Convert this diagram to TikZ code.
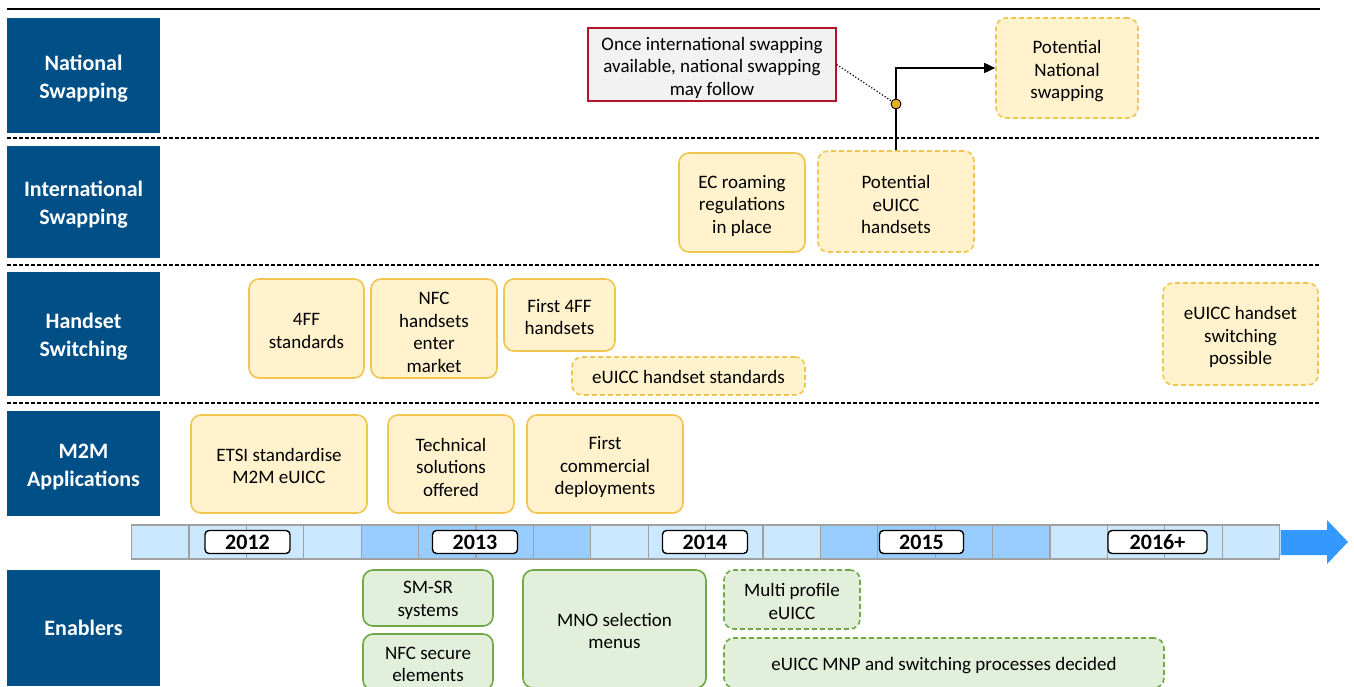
\documentclass[tikz,border=0pt]{standalone}
\usepackage{fontspec}
\setmainfont{Carlito}
\usetikzlibrary{arrows.meta}
\definecolor{sideblue}{RGB}{0,80,135}
\definecolor{yfill}{RGB}{255,242,204}
\definecolor{ybd}{RGB}{240,198,80}
\definecolor{gfill}{RGB}{226,239,218}
\definecolor{gbd}{RGB}{112,168,70}
\definecolor{cfill}{RGB}{242,242,242}
\definecolor{cbd}{RGB}{180,20,40}
\definecolor{tlight}{RGB}{204,232,255}
\definecolor{tdark}{RGB}{153,204,255}
\definecolor{tline}{RGB}{160,160,160}
\definecolor{arrblue}{RGB}{51,153,255}
\definecolor{dotgold}{RGB}{230,176,30}
\newcommand\rbox[7]{\node[#1,minimum width={#4-#2},minimum height={#5-#3}] (#6) at ({(#2+#4)/2},{(#3+#5)/2}) {#7};}
\newcommand\bs{\rule{0pt}{20pt}}
\newcommand\bt{\rule{0pt}{17pt}}
\newcommand\sbs{\rule{0pt}{21pt}}
\begin{document}
\begin{tikzpicture}[x=1pt,y=-1pt,
  side/.style={fill=sideblue, text=white, font=\fontsize{22}{28}\selectfont\bfseries, align=center, inner sep=0},
  box/.style={rounded corners=10pt, line width=1.6pt, align=center, inner sep=0, font=\fontsize{19}{22.5}\selectfont},
  ybox/.style={box, draw=ybd, fill=yfill},
  gbox/.style={box, draw=gbd, fill=gfill},
  dsh/.style={dash pattern=on 5pt off 3pt},
  sep/.style={line width=1.2pt, dash pattern=on 4pt off 2pt},
  yr/.style={draw=black, fill=white, rounded corners=4pt, line width=1.4pt, inner sep=0, minimum height=23pt, font=\fontsize{22}{22}\selectfont\bfseries}
]
\useasboundingbox (0,0) rectangle (1354,687);
\clip (0,0) rectangle (1354,687);

% separators
\draw[line width=2.2pt] (7,9) -- (1320,9);
\draw[sep] (7,138) -- (1320,138);
\draw[sep] (7,265) -- (1320,265);
\draw[sep] (7,403) -- (1320,403);

% sidebar
\rbox{side}{7}{18}{160}{133}{sNS}{\sbs National\\Swapping}
\rbox{side}{7}{146}{160}{258}{sIS}{\sbs International\\Swapping}
\rbox{side}{7}{272}{160}{396}{sHS}{\sbs Handset\\Switching}
\rbox{side}{7}{411}{160}{516}{sM2M}{\sbs M2M\\Applications}
\rbox{side}{7}{570}{160}{686}{sEN}{Enablers}

% national swapping row
\rbox{box, draw=cbd, fill=cfill, rounded corners=0pt, line width=1.3pt}{588}{28}{836}{101}{callout}{\bs Once international swapping\\available, national swapping\\may follow}
\rbox{ybox, dsh}{996}{18}{1138}{118}{pns}{\bs Potential\\National\\swapping}

% international swapping row
\rbox{ybox}{679}{153}{805}{252}{ec}{\bs EC roaming\\regulations\\in place}
\rbox{ybox, dsh}{818}{151}{974}{252}{peh}{\bs Potential\\eUICC\\handsets}

% handset switching row
\rbox{ybox}{249}{279}{364}{378}{ff}{\bt 4FF\\standards}
\rbox{ybox}{371}{279}{497}{378}{nfc}{\bs NFC\\handsets\\enter\\market}
\rbox{ybox}{504}{279}{615}{351}{f4ff}{\bt First 4FF\\handsets}
\rbox{ybox, dsh}{572}{357}{805}{395}{ehs}{\rule{0pt}{16pt}eUICC handset standards}
\rbox{ybox, dsh}{1163}{283}{1318}{385}{ehsp}{\bs eUICC handset\\switching\\possible}

% M2M row
\rbox{ybox}{191}{415}{367}{513}{etsi}{\bt ETSI standardise\\M2M eUICC}
\rbox{ybox}{388}{415}{514}{513}{tech}{\bs Technical\\solutions\\offered}
\rbox{ybox}{527}{415}{683}{513}{fcd}{\bs First\\commercial\\deployments}

% timeline
\foreach \i in {0,...,3,8,9,10,11,16,17,18,19}
  \fill[tlight] ({131.5+57.4*\i},525) rectangle ({131.5+57.4*(\i+1)},559);
\foreach \i in {4,...,7,12,13,14,15}
  \fill[tdark] ({131.5+57.4*\i},525) rectangle ({131.5+57.4*(\i+1)},559);
\foreach \i in {1,...,19}
  \draw[tline, line width=1.2pt] ({131.5+57.4*\i},525) -- ({131.5+57.4*\i},559);
\draw[tline, line width=1.4pt] (131.5,525) rectangle (1279.5,559);
\fill[arrblue] (1280.5,530) -- (1327,530) -- (1327,520) -- (1348,542) -- (1327,564) -- (1327,555) -- (1280.5,555) -- cycle;
\node[yr, minimum width=85pt] (y12) at (247.5,542) {2012};
\node[yr, minimum width=85pt] (y13) at (475,542) {2013};
\node[yr, minimum width=85pt] (y14) at (705,542) {2014};
\node[yr, minimum width=84pt] (y15) at (921.5,542) {2015};
\node[yr, minimum width=99pt] (y16) at (1157.5,542) {2016+};

% enablers
\rbox{gbox}{363}{570}{493}{626}{smsr}{\bt SM-SR\\systems}
\rbox{gbox}{363}{634}{493}{690}{nfcse}{\bt NFC secure\\elements}
\rbox{gbox}{523}{570}{706}{688}{mno}{\bt MNO selection\\menus}
\rbox{gbox, dsh}{724}{570}{860}{629}{mpe}{\bt Multi profile\\eUICC}
\rbox{gbox, dsh}{724}{638}{1164}{688}{mnp}{\rule{0pt}{18pt}eUICC MNP and switching processes decided}

% connectors
\draw[line width=1.5pt, -{Triangle[length=11pt,width=10pt]}] (peh.north) -- (peh.north |- pns.west) -- (pns.west);
\node[circle, fill=dotgold, draw=black, line width=0.9pt, minimum size=10pt, inner sep=0] (dot) at (896,104) {};
\draw[dotted, line width=1.2pt] (callout.east) -- (dot);
\end{tikzpicture}
\end{document}
